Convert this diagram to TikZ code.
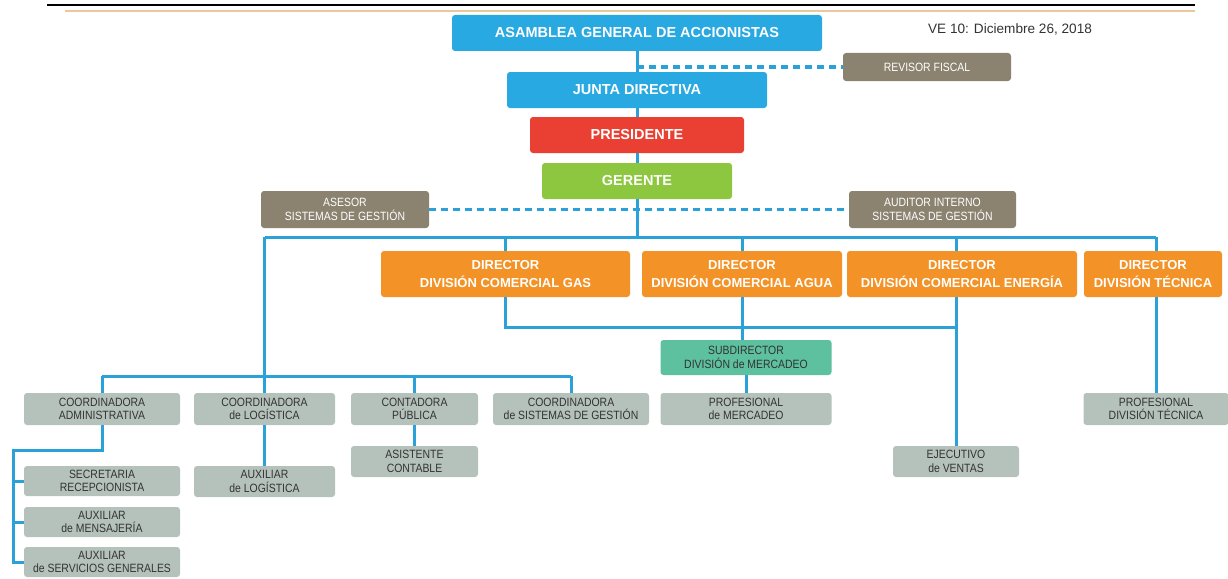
\documentclass[tikz,border=0pt]{standalone}
\usepackage{fontspec}
\setmainfont{Liberation Sans}
\newfontfamily\narrowfont[FakeStretch=0.87]{Liberation Sans}
\definecolor{cblue}{HTML}{29A9E1}
\definecolor{cline}{HTML}{2AA1D8}
\definecolor{cred}{HTML}{EA3F33}
\definecolor{cgreen}{HTML}{8DC63F}
\definecolor{corange}{HTML}{F39226}
\definecolor{ctaupe}{HTML}{8C8270}
\definecolor{cgray}{HTML}{B5C2BC}
\definecolor{cteal}{HTML}{5DC09E}
\definecolor{ctext}{HTML}{333333}
\definecolor{ctan}{HTML}{EAC79C}
\begin{document}
\begin{tikzpicture}[x=1pt,y=-1pt,
  base/.style={rectangle, rounded corners=3pt, inner sep=0pt, align=center, anchor=center},
  bigbox/.style={base, fill=cblue, text=white, font=\fontsize{14.5}{16}\selectfont\bfseries, minimum height=36pt},
  dirbox/.style={base, fill=corange, text=white, font=\fontsize{13}{17.5}\selectfont\bfseries, minimum height=46pt},
  taupebox/.style={base, fill=ctaupe, text=white, font=\narrowfont\fontsize{12}{13.5}\selectfont},
  graybox/.style={base, fill=cgray, text=ctext, font=\narrowfont\fontsize{12}{13.7}\selectfont, minimum height=32pt},
  conn/.style={draw=cline, line width=3pt},
  dconn/.style={conn, dash pattern=on 7pt off 5pt}
]
\useasboundingbox (0,0) rectangle (1228,578);
% header lines
\draw[black, line width=1.5pt] (47,5) -- (1195,5);
\draw[ctan, line width=1.2pt] (65,11) -- (1195,11);
\node[font=\fontsize{13.6}{16}\selectfont, text=ctext, anchor=center] (ve) at (1010,29) {VE 10: Diciembre 26, 2018};

% top hierarchy
\node[bigbox, minimum width=370pt] (asam) at (637,33) {ASAMBLEA GENERAL DE ACCIONISTAS};
\node[bigbox, minimum width=260pt] (junta) at (637,90) {JUNTA DIRECTIVA};
\node[bigbox, fill=cred, minimum width=214pt] (pres) at (637,135) {PRESIDENTE};
\node[bigbox, fill=cgreen, minimum width=190pt] (ger) at (637,181) {GERENTE};
\node[taupebox, minimum width=168pt, minimum height=28pt] (rev) at (927,67) {REVISOR FISCAL};
\node[taupebox, minimum width=168pt, minimum height=37pt] (ases) at (345,209.5) {ASESOR\\SISTEMAS DE GESTIÓN};
\node[taupebox, minimum width=167pt, minimum height=37pt] (aud) at (932.5,209.5) {AUDITOR INTERNO\\SISTEMAS DE GESTIÓN};

% directors
\node[dirbox, minimum width=249pt] (gas) at (505.5,274) {DIRECTOR\\DIVISIÓN COMERCIAL GAS};
\node[dirbox, minimum width=200pt] (agua) at (742,274) {DIRECTOR\\DIVISIÓN COMERCIAL AGUA};
\node[dirbox, minimum width=230pt] (ener) at (962,274) {DIRECTOR\\DIVISIÓN COMERCIAL ENERGÍA};
\node[dirbox, minimum width=138pt] (tec) at (1153,274) {DIRECTOR\\DIVISIÓN TÉCNICA};

% middle
\node[graybox, fill=cteal, minimum width=171pt, minimum height=35pt] (subdir) at (746,357.5) {SUBDIRECTOR\\DIVISIÓN de MERCADEO};
\node[graybox, minimum width=171pt] (pmerc) at (746,409) {PROFESIONAL\\de MERCADEO};
\node[graybox, minimum width=145pt] (ptec) at (1156,409) {PROFESIONAL\\DIVISIÓN TÉCNICA};
\node[graybox, minimum width=126pt, minimum height=31pt] (ejec) at (956,461.5) {EJECUTIVO\\de VENTAS};

% coordinators
\node[graybox, minimum width=156pt] (adm) at (102,409) {COORDINADORA\\ADMINISTRATIVA};
\node[graybox, minimum width=141pt] (log) at (264.5,409) {COORDINADORA\\de LOGÍSTICA};
\node[graybox, minimum width=127pt] (cont) at (414.5,409) {CONTADORA\\PÚBLICA};
\node[graybox, minimum width=156pt] (sist) at (571,409) {COORDINADORA\\de SISTEMAS DE GESTIÓN};
\node[graybox, minimum width=127pt, minimum height=31pt] (asist) at (414.5,461.5) {ASISTENTE\\CONTABLE};
\node[graybox, minimum width=141pt, minimum height=31pt] (auxlog) at (264.5,481.5) {AUXILIAR\\de LOGÍSTICA};
\node[graybox, minimum width=156pt, minimum height=30pt] (secr) at (102,481) {SECRETARIA\\RECEPCIONISTA};
\node[graybox, minimum width=156pt, minimum height=30pt] (mens) at (102,522) {AUXILIAR\\de MENSAJERÍA};
\node[graybox, minimum width=156pt, minimum height=30pt] (serv) at (102,562) {AUXILIAR\\de SERVICIOS GENERALES};

% helper coordinates
\coordinate (bus) at (0,237);
\coordinate (lbus) at (0,376);
\coordinate (mid) at (0,327);
\coordinate (aL) at (13,450);

% connectors
\draw[conn] (asam.south) -- (junta.north);
\draw[conn] (junta.south) -- (pres.north);
\draw[conn] (pres.south) -- (ger.north);
\draw[conn] (ger.south) -- (ger.south |- bus);
\draw[dconn] (asam.south |- rev.west) -- (rev.west);
\draw[dconn] (ases.east) -- (aud.west);
\draw[conn] (log.north |- bus) -- (ptec.north |- bus);
\draw[conn] (gas.north |- bus) -- (gas.north);
\draw[conn] (agua.north |- bus) -- (agua.north);
\draw[conn] (ejec.north |- bus) -- (ejec.north |- ener.north);
\draw[conn] (ptec.north |- bus) -- (ptec.north |- tec.north);
\draw[conn] (log.north |- bus) -- (log.north);
\draw[conn] (adm.north |- lbus) -- (sist.north |- lbus);
\draw[conn] (adm.north |- lbus) -- (adm.north);
\draw[conn] (cont.north |- lbus) -- (cont.north);
\draw[conn] (sist.north |- lbus) -- (sist.north);
\draw[conn] (gas.south) -- (gas.south |- mid) -- (ejec.north |- mid);
\draw[conn] (agua.south) -- (agua.south |- subdir.north);
\draw[conn] (subdir.south) -- (pmerc.north);
\draw[conn] (ejec.north |- ener.south) -- (ejec.north);
\draw[conn] (ptec.north |- tec.south) -- (ptec.north);
\draw[conn] (log.south) -- (auxlog.north);
\draw[conn] (cont.south) -- (asist.north);
\draw[conn] (adm.south) -- (adm.south |- aL) -- (aL) -- (aL |- serv.west) -- (serv.west);
\draw[conn] (aL |- secr.west) -- (secr.west);
\draw[conn] (aL |- mens.west) -- (mens.west);
\end{tikzpicture}
\end{document}
